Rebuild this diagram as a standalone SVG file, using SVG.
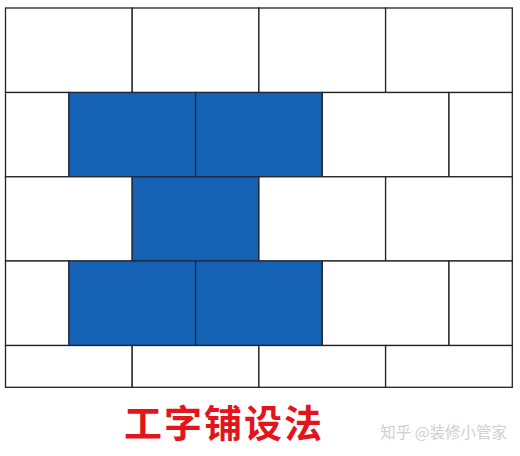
<svg xmlns="http://www.w3.org/2000/svg" width="520" height="456" viewBox="0 0 520 456">
<style>
.w{fill:#fff;stroke:#222;stroke-width:1.3}
.b{fill:#1562B4;stroke:#1a2a40;stroke-width:1.3}
.t{font-family:"Noto Sans CJK SC","Noto Sans",sans-serif;font-weight:bold;font-size:38px;fill:#E3151B}
.m{font-family:"Noto Sans CJK SC","Noto Sans",sans-serif;font-size:15.5px;fill:#d0d0d0}
</style>
<rect width="520" height="456" fill="#fff"/>
<g id="row1">
<rect class="w" x="5.5" y="8" width="126.7" height="84.5"/>
<rect class="w" x="132.2" y="8" width="126.7" height="84.5"/>
<rect class="w" x="258.9" y="8" width="126.7" height="84.5"/>
<rect class="w" x="385.6" y="8" width="126.7" height="84.5"/>
</g>
<g id="row2">
<rect class="w" x="5.5" y="92.5" width="63.4" height="84.3"/>
<rect class="b" x="68.9" y="92.5" width="126.7" height="84.3"/>
<rect class="b" x="195.6" y="92.5" width="126.7" height="84.3"/>
<rect class="w" x="322.3" y="92.5" width="126.7" height="84.3"/>
<rect class="w" x="449" y="92.5" width="63.3" height="84.3"/>
</g>
<g id="row3">
<rect class="w" x="5.5" y="176.8" width="126.7" height="84.2"/>
<rect class="b" x="132.2" y="176.8" width="126.7" height="84.2"/>
<rect class="w" x="258.9" y="176.8" width="126.7" height="84.2"/>
<rect class="w" x="385.6" y="176.8" width="126.7" height="84.2"/>
</g>
<g id="row4">
<rect class="w" x="5.5" y="261" width="63.4" height="84.5"/>
<rect class="b" x="68.9" y="261" width="126.7" height="84.5"/>
<rect class="b" x="195.6" y="261" width="126.7" height="84.5"/>
<rect class="w" x="322.3" y="261" width="126.7" height="84.5"/>
<rect class="w" x="449" y="261" width="63.3" height="84.5"/>
</g>
<g id="row5">
<rect class="w" x="5.5" y="345.5" width="126.7" height="41.8"/>
<rect class="w" x="132.2" y="345.5" width="126.7" height="41.8"/>
<rect class="w" x="258.9" y="345.5" width="126.7" height="41.8"/>
<rect class="w" x="385.6" y="345.5" width="126.7" height="41.8"/>
</g>
<g id="title"><text class="t" x="224" y="437" text-anchor="middle" letter-spacing="2">工字铺设法</text></g>
<g id="watermark"><text class="m" x="507" y="437.5" text-anchor="end">知乎 @装修小管家</text></g>
</svg>
